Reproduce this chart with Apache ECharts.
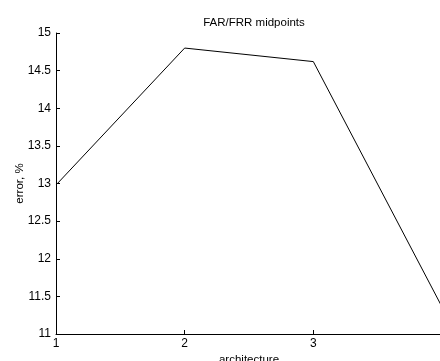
<!DOCTYPE html>
<html>
<head>
<meta charset="utf-8">
<script src="https://cdn.jsdelivr.net/npm/echarts@6/dist/echarts.min.js"></script>
<style>
  html, body { margin: 0; padding: 0; background: #fff; }
  #chart { width: 440px; height: 361px; }
</style>
</head>
<body>
<div id="chart"></div>
<script>
// Data
const architecture = [1, 2, 3, 4];
const errorPct = [12.98, 14.8, 14.62, 11.36];
const titleText = 'FAR/FRR midpoints';
const xName = 'architecture';
const yName = 'error, %';

const chart = echarts.init(document.getElementById('chart'));
const font = 'Arial, "Liberation Sans", sans-serif';

chart.setOption({
  animation: false,
  backgroundColor: '#fff',
  title: {
    text: titleText,
    left: 249,
    top: 12,
    textAlign: 'center',
    textStyle: { fontFamily: font, fontSize: 11.5, fontWeight: 'normal', color: '#000' }
  },
  grid: { left: 56, right: -2, top: 33, bottom: 27, containLabel: false, outerBoundsMode: 'none' },
  xAxis: {
    type: 'value',
    min: 1, max: 4, interval: 1,
    name: xName,
    nameLocation: 'middle',
    nameGap: 20,
    nameMoveOverlap: false,
    nameTextStyle: { fontFamily: font, fontSize: 11.5, color: '#000' },
    axisLine: { show: true, lineStyle: { color: '#000', width: 1 } },
    axisTick: { show: true, inside: true, length: 4, lineStyle: { color: '#000' } },
    axisLabel: { margin: 4, fontFamily: font, fontSize: 12, color: '#000', showMaxLabel: false },
    splitLine: { show: false }
  },
  yAxis: {
    type: 'value',
    min: 11, max: 15, interval: 0.5,
    name: yName,
    nameLocation: 'middle',
    nameGap: 30,
    nameRotate: 90,
    nameMoveOverlap: false,
    nameTextStyle: { fontFamily: font, fontSize: 11.5, color: '#000' },
    axisLine: { show: true, lineStyle: { color: '#000', width: 1 } },
    axisTick: { show: true, inside: true, length: 4, lineStyle: { color: '#000' } },
    axisLabel: { margin: 5, fontFamily: font, fontSize: 12, color: '#000' },
    splitLine: { show: false }
  },
  series: [{
    type: 'line',
    data: architecture.map((a, i) => [a, errorPct[i]]),
    showSymbol: false,
    lineStyle: { color: '#000', width: 1 },
    clip: true
  }]
});
</script>
</body>
</html>
